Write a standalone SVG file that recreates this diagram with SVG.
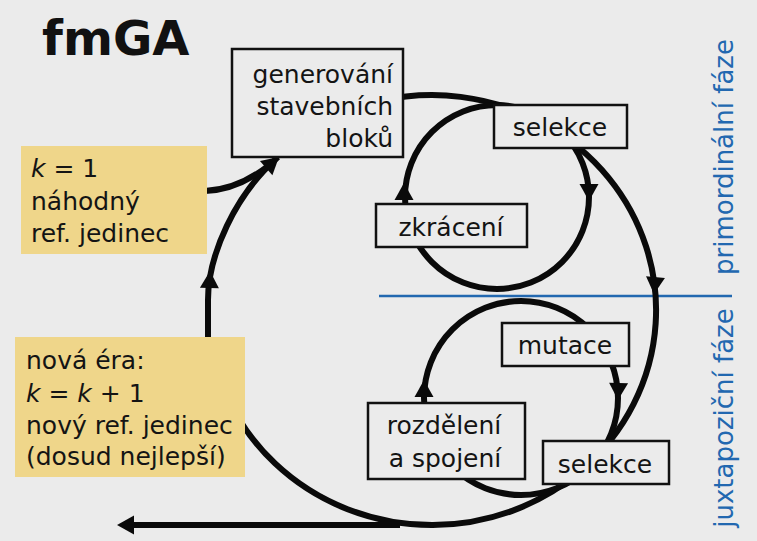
<svg xmlns="http://www.w3.org/2000/svg" xmlns:xlink="http://www.w3.org/1999/xlink" width="757" height="541" viewBox="0 0 757 541">
<style>
.bg{fill:#ebebeb}
.box{fill:#ebebeb;stroke:#111;stroke-width:2.5}
.ybox{fill:#efd68a}
.t{font-family:"DejaVu Sans",sans-serif;font-size:25px;fill:#141414}
.c{text-anchor:middle}
.r{text-anchor:end}
.ln{fill:none;stroke:#0a0a0a;stroke-width:6}
.ah{fill:#0a0a0a}
.blue{font-family:"DejaVu Sans",sans-serif;font-size:26px;fill:#2268b0;text-anchor:middle}
.title{font-family:"DejaVu Sans",sans-serif;font-weight:bold;font-size:48px;fill:#111}
</style>
<defs>
<path id="arr" d="M0,0 L-17,-9.5 L-17,9.5 Z"/>
</defs>
<rect class="bg" x="0" y="0" width="757" height="541"/>
<text class="title" x="42" y="55">fmGA</text>
<line x1="379" y1="296" x2="732" y2="296" stroke="#2268b0" stroke-width="2.5"/>
<text class="blue" transform="translate(733,157) rotate(-90)">primordinální fáze</text>
<text class="blue" transform="translate(733,418) rotate(-90)">juxtapoziční fáze</text>
<g id="connectors">
<path class="ln" d="M380,101 A224 215 0 1 1 228.6,400"/>
<path class="ln" d="M208,350 L208,300 C208,255 235,195 278,157"/>
<path class="ln" d="M205,191 C230,190 250,180 268,166"/>
<path class="ln" d="M400,525 L130,525"/>
<circle class="ln" cx="497" cy="197" r="92"/>
<circle class="ln" cx="521" cy="398" r="97"/>
<use href="#arr" class="ah" transform="translate(117,525) rotate(180)"/>
<use href="#arr" class="ah" transform="translate(210,271) rotate(-88)"/>
<use href="#arr" class="ah" transform="translate(279,157) rotate(-41)"/>
<use href="#arr" class="ah" transform="translate(654,294) rotate(95)"/>
<use href="#arr" class="ah" transform="translate(404,183) rotate(-90)"/>
<use href="#arr" class="ah" transform="translate(589,201) rotate(90)"/>
<use href="#arr" class="ah" transform="translate(424,380) rotate(-90)"/>
<use href="#arr" class="ah" transform="translate(618,400) rotate(92)"/>
</g>
<g id="k1">
<rect class="ybox" x="21" y="146" width="186" height="108"/>
<text class="t" x="31" y="177"><tspan font-style="italic">k</tspan> = 1</text>
<text class="t" x="31" y="210">náhodný</text>
<text class="t" x="31" y="242">ref. jedinec</text>
</g>
<g id="novaera">
<rect class="ybox" x="15" y="337" width="230" height="140"/>
<text class="t" x="26" y="369">nová éra:</text>
<text class="t" x="26" y="402"><tspan font-style="italic">k</tspan> = <tspan font-style="italic">k</tspan> + 1</text>
<text class="t" x="26" y="434">nový ref. jedinec</text>
<text class="t" x="26" y="465">(dosud nejlepší)</text>
</g>
<g id="generovani">
<rect class="box" x="232" y="49" width="171" height="108"/>
<text class="t r" x="393" y="83">generování</text>
<text class="t r" x="393" y="115">stavebních</text>
<text class="t r" x="393" y="147">bloků</text>
</g>
<g id="selekce1">
<rect class="box" x="494" y="105" width="133" height="43"/>
<text class="t c" x="560" y="136">selekce</text>
</g>
<g id="zkraceni">
<rect class="box" x="376" y="204" width="151" height="43"/>
<text class="t c" x="451" y="236">zkrácení</text>
</g>
<g id="mutace">
<rect class="box" x="502" y="323" width="127" height="43"/>
<text class="t c" x="565" y="354">mutace</text>
</g>
<g id="rozdeleni">
<rect class="box" x="368" y="403" width="157" height="76"/>
<text class="t c" x="444" y="434">rozdělení</text>
<text class="t c" x="445" y="467">a spojení</text>
</g>
<g id="selekce2">
<rect class="box" x="543" y="441" width="126" height="43"/>
<text class="t c" x="605" y="473">selekce</text>
</g>
</svg>
